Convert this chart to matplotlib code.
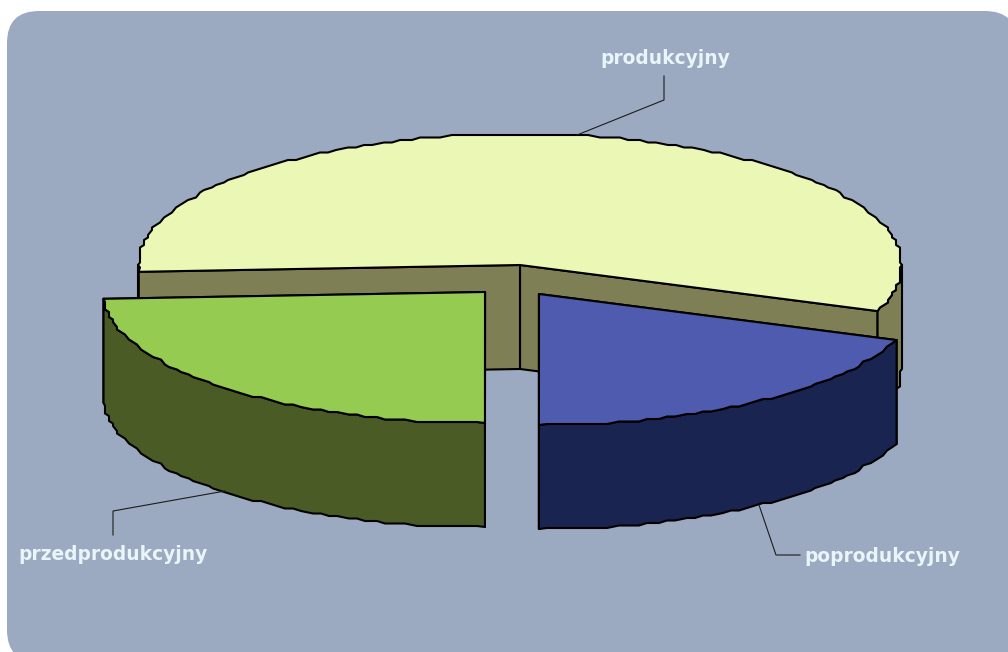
import numpy as np
import matplotlib
matplotlib.use("Agg")
import matplotlib.pyplot as plt
from matplotlib.patches import FancyBboxPatch, Polygon

labels = ["produkcyjny", "przedprodukcyjny", "poprodukcyjny"]
values = [56.55, 24.17, 19.28]
top_colors = ["#EBF7B5", "#95CB50", "#4E5BAE"]
side_colors = ["#7F7F56", "#4A5B26", "#1A2450"]

start_angle = -20.6
centers = [(520, 265), (485, 292), (539, 294)]
rx, ry = 382, 131
depth = 104
edge = 1.5


def arc(center, a0, a1):
    # the outline of the original is stepped, so snap points to a coarse grid
    step = 1.5
    inner = np.arange(np.ceil(a0 / step + 0.5), np.floor(a1 / step - 0.5) + 1) * step
    ang = np.radians(np.concatenate([[a0], inner, [a1]]))
    dx = rx * np.cos(ang)
    dy = -ry * np.sin(ang)
    dx[1:-1] = np.clip(np.round(dx[1:-1] / 4) * 4, -rx, rx)
    dy[1:-1] = np.clip(np.round(dy[1:-1] / 2.5) * 2.5, -ry, ry)
    return np.column_stack([center[0] + dx, center[1] + dy])


def draw_wall(ax, center, a0, a1, color):
    top = arc(center, a0, a1)
    bottom = top[::-1] + [0, depth]
    ax.add_patch(Polygon(np.vstack([top, bottom]), closed=True, fc=color,
                         ec="black", lw=edge, joinstyle="round"))


def draw_radial(ax, center, a, color):
    ang = np.radians(a)
    p = (center[0] + rx * np.cos(ang), center[1] - ry * np.sin(ang))
    pts = [center, p, (p[0], p[1] + depth), (center[0], center[1] + depth)]
    ax.add_patch(Polygon(pts, closed=True, fc=color, ec="black", lw=edge,
                         joinstyle="round"))


def draw_slice(ax, center, a0, a1, top_color, side_color):
    # back faces first, then outer wall on the front half, then the top
    draw_radial(ax, center, a0, side_color)
    draw_radial(ax, center, a1, side_color)
    if a0 < 0:
        draw_wall(ax, center, a0, min(a1, 0), side_color)
    if a1 > 180:
        draw_wall(ax, center, max(a0, 180), min(a1, 360), side_color)
    pts = np.vstack([[center], arc(center, a0, a1)])
    ax.add_patch(Polygon(pts, closed=True, fc=top_color, ec="black", lw=edge,
                         joinstyle="round"))


fig = plt.figure(figsize=(10.08, 6.52), dpi=100, facecolor="white")
ax = fig.add_axes([0, 0, 1, 1])
ax.set_xlim(0, 1008)
ax.set_ylim(652, 0)
ax.axis("off")

ax.add_patch(FancyBboxPatch((7, 11), 1010, 651,
                            boxstyle="round,pad=0,rounding_size=32",
                            fc="#9BAAC1", ec="none"))

shares = 360 * np.array(values) / sum(values)
angle = start_angle
for i in range(len(values)):
    draw_slice(ax, centers[i], angle, angle + shares[i],
               top_colors[i], side_colors[i])
    angle += shares[i]

# leader lines
leaders = [([664, 664, 577], [76, 100, 135]),
           ([113, 113, 225], [535, 511, 491]),
           ([759, 776, 800], [505, 555, 555])]
for lx, ly in leaders:
    ax.plot(lx, ly, color="#1c1c1c", lw=0.8, solid_joinstyle="miter")

label_pos = [(665, 58), (113, 554), (882, 556)]
for text, (tx, ty) in zip(labels, label_pos):
    ax.text(tx, ty, text, ha="center", va="center", color="#E8F5FA",
            fontsize=13.4, fontweight="bold", family="DejaVu Sans")

fig.savefig("out.png", dpi=100, facecolor="white")
